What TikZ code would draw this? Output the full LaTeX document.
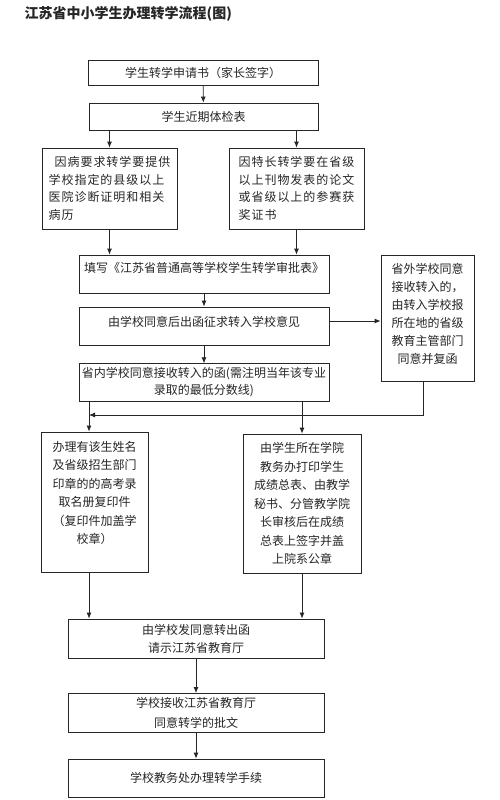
\documentclass[tikz,border=0pt]{standalone}
\usepackage{fontspec}
\setmainfont{Noto Sans CJK SC}
\usetikzlibrary{arrows.meta}

\begin{document}
\begin{tikzpicture}[x=1pt, y=-1pt, >={Latex[length=6pt,width=5pt]}, line width=0.8pt, color=black!85,
    main box/.style={draw, rectangle, inner sep=4pt, align=center, font=\fontsize{12}{18}\selectfont},
    wide box/.style={main box, minimum width=250, minimum height=38},
    low box/.style={main box, minimum width=256, minimum height=38}]
                \useasboundingbox[fill=white] (0,0) rectangle (500,800);

                \node[anchor=west, font=\fontsize{14}{18}\selectfont\bfseries] at (21, 14) (title) {江苏省中小学生办理转学流程(图)};

                \node[main box, minimum width=230, minimum height=25] at (203, 72.5) (apply) {学生转学申请书（家长签字）};
                \node[main box, minimum width=229, minimum height=27] at (203.5, 116.5) (exam) {学生近期体检表};
                \node[main box, minimum width=135, minimum height=81, align=left, font=\fontsize{12}{17.7}\selectfont\addfontfeature{LetterSpace=8}] at (109.5, 188.5) (ill) {\hspace{0.5em}因病要求转学要提供\\学校指定的县级以上\\医院诊断证明和相关\\病历};
                \node[main box, minimum width=135, minimum height=81, align=left, font=\fontsize{12}{17.7}\selectfont\addfontfeature{LetterSpace=8}] at (296.5, 188.5) (talent) {因特长转学要在省级\\以上刊物发表的论文\\或省级以上的参赛获\\奖证书};
                \node[wide box, text depth=13.5] at (204, 274) (form) {填写《江苏省普通高等学校学生转学审批表》};
                \node[wide box, text depth=9.5] at (204, 326) (ask) {由学校同意后出函征求转入学校意见};
                \node[main box, minimum width=93, minimum height=126, text width=85, text depth=99] at (427.5, 318) (outside) {省外学校同意\\接收转入的，\\由转入学校报\\所在地的省级\\教育主管部门\\同意并复函};
                \node[wide box, minimum height=37, inner xsep=1pt, font=\fontsize{12}{17}\selectfont] at (204, 382.5) (inside) {省内学校同意接收转入的函(需注明当年该专业\\录取的最低分数线)};
                \node[main box, minimum width=107, minimum height=140, text width=95, text depth=111, font=\fontsize{12}{18.4}\selectfont] at (94.5, 502) (admit) {办理有该生姓名\\及省级招生部门\\印章的的高考录\\取名册复印件\\（复印件加盖学\\校章）};
                \node[main box, minimum width=118, minimum height=139, font=\fontsize{12}{18.5}\selectfont] at (302, 503.5) (score) {由学生所在学院\\教务办打印学生\\成绩总表、由教学\\秘书、分管教学院\\长审核后在成绩\\总表上签字并盖\\上院系公章};
                \node[low box, minimum height=39] at (196, 638.5) (letter) {由学校发同意转出函\\请示江苏省教育厅};
                \node[low box, font=\fontsize{12}{20}\selectfont] at (196, 713) (reply) {学校接收江苏省教育厅\\同意转学的批文};
                \node[low box] at (196, 778) (finish) {学校教务处办理转学手续};

                \coordinate (join) at (89, 415);

                \path[->] (apply) edge (exam);
                \path[->] (exam.south -| ill) edge (ill);
                \path[->] (exam.south -| talent) edge (talent);
                \path[->] (ill) edge (ill |- form.north);
                \path[->] (talent) edge (talent |- form.north);
                \path[->] (form) edge (ask);
                \path[->] ([yshift=5pt]ask.east) edge ([yshift=5pt]ask.east -| outside.west);
                \path[->] (ask) edge (inside);

                % back from the outside school to the left branch
                \draw[->] ([xshift=-4.5pt]outside.south) |- (join);
                \path[->] (inside.south -| join) edge (join |- admit.north);
                \path[->] (inside.south -| score) edge (score);

                \path[->] (admit.south -| join) edge (join |- letter.north);
                \path[->] (score) edge (score |- letter.north);
                \path[->] (letter) edge (reply);
                \path[->] (reply) edge (finish);
            \end{tikzpicture}
\end{document}
